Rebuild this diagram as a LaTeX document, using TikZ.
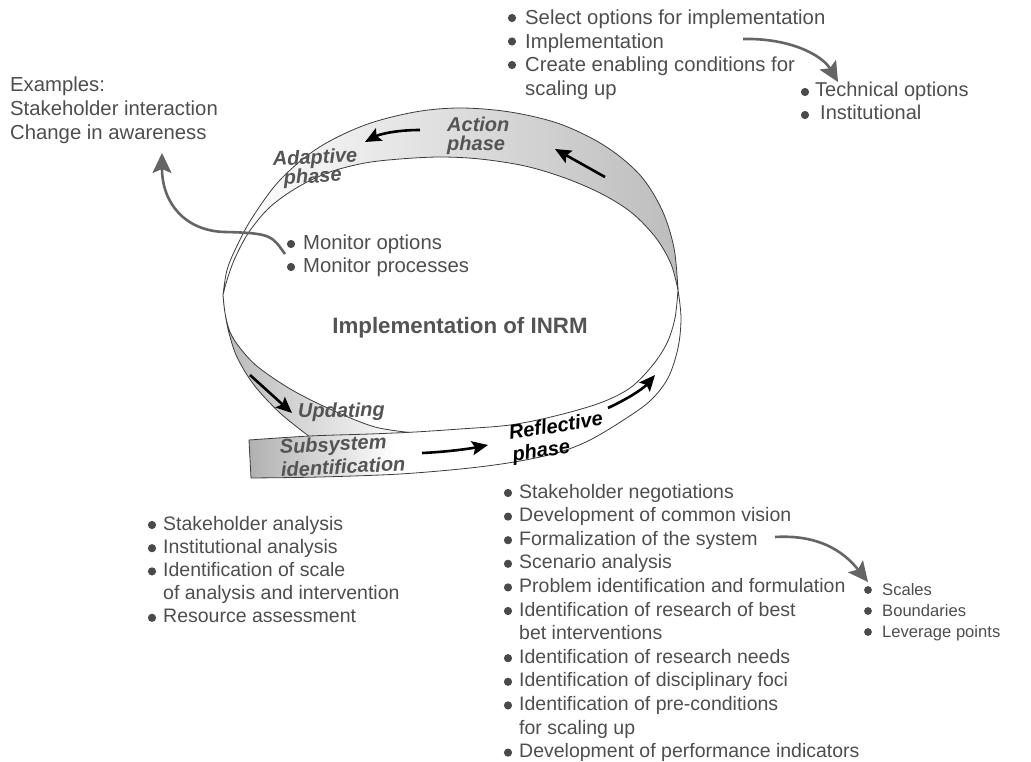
\documentclass[tikz,border=0pt]{standalone}
\usepackage{fontspec}
\setmainfont{Liberation Sans}
\usetikzlibrary{arrows.meta,calc}

\definecolor{txtgray}{HTML}{4E4E4E}
\definecolor{labgray}{HTML}{545454}
\definecolor{notegray}{HTML}{656565}
\definecolor{edgec}{HTML}{3C3C3C}
\definecolor{bulletc}{HTML}{4A4A4A}

\newcommand\listfont[2]{\fontsize{#1}{#2}\selectfont}

% ribbon outlines (pixel-like units, y grows downward)
\newcommand\topPath{plot[smooth,tension=0.55] coordinates {(223,295) (227,270) (236,248) (252,218) (280,180) (318,148) (365,125) (415,112) (460,108) (510,112) (560,124) (605,146) (640,175) (662,210) (674,248) (678,290)} -- plot[smooth,tension=0.55] coordinates {(678,290) (671,264) (656,238) (632,213) (602,194) (565,178) (525,166) (480,159) (440,157) (400,159) (365,163) (330,172) (298,187) (270,207) (249,232) (235,258) (227,280) (223,295)} -- cycle}
\newcommand\updPath{plot[smooth,tension=0.55] coordinates {(223,295) (225,313) (229,333) (237,357) (254,385) (280,413) (310,437)} -- (415,433) -- plot[smooth,tension=0.55] coordinates {(415,433) (375,427) (332,410) (292,390) (258,367) (240,348) (230,332) (225,313) (223,295)} -- cycle}
\newcommand\stripPath{plot[smooth,tension=0.55] coordinates {(249,440) (310,436) (370,434) (415,432) (460,429) (510,425) (555,416) (600,403) (630,388) (652,366) (667,343) (675,318) (678,290)} -- plot[smooth,tension=0.55] coordinates {(678,290) (681,318) (678,348) (668,378) (650,401) (622,421) (590,440) (560,452) (520,461) (470,468) (400,474) (320,477) (251,478)} -- cycle}

\tikzset{
  ribbonedge/.style={draw=edgec, line width=0.8pt},
  listtext/.style={inner sep=0pt, anchor=base west, text=txtgray},
  ribbonlabel/.style={inner sep=0pt, anchor=base west, text=labgray,
    font=\bfseries\itshape\fontsize{20}{22}\selectfont},
  flowarrow/.style={line width=2.6pt, draw=black,
    -{Stealth[length=16pt,width=14pt,inset=3pt]}},
  notearrow/.style={line width=2.6pt, draw=notegray,
    -{Stealth[length=20pt,width=19pt,inset=4pt,fill=notegray]}},
  bulletdot/.style={fill=bulletc},
}

\begin{document}
\begin{tikzpicture}[x=1pt,y=-1pt]
\fill[white] (0,0) rectangle (1031,762);
\useasboundingbox (0,0) rectangle (1031,762);

% --- the twisted ribbon ---
\shade[left color=white, middle color=gray!18, right color=gray!52] \topPath;
\draw[ribbonedge] \topPath;

\shade[left color=gray!55, middle color=white, right color=white] \updPath;
\draw[ribbonedge] \updPath;

\fill[white] \stripPath;
\begin{scope}
  \clip \stripPath;
  \shade[left color=gray!62, right color=white] (249,420) rectangle (395,490);
\end{scope}
\draw[ribbonedge] \stripPath;

% --- labels on the ribbon ---
\node[ribbonlabel] (lblaction) at (447,132)
  {\begin{tabular}[t]{@{}l@{}}Action\\[-3pt]phase\end{tabular}};
\node[ribbonlabel, rotate=3] (lbladapt) at (273,166)
  {\begin{tabular}[t]{@{}l@{}}Adaptive\\[-3pt]\hspace{10pt}phase\end{tabular}};
\node[ribbonlabel, rotate=1] (lblupd) at (298,418) {Updating};
\node[ribbonlabel, rotate=3] (lblsub) at (280,454)
  {\begin{tabular}[t]{@{}l@{}}Subsystem\\[1pt]identification\end{tabular}};
\node[ribbonlabel, rotate=9, text=black] (lblrefl) at (510,440)
  {\begin{tabular}[t]{@{}l@{}}Reflective\\phase\end{tabular}};

\node[inner sep=0pt, anchor=base, text=labgray,
  font=\bfseries\fontsize{22.3}{26}\selectfont] (title) at (460,333)
  {Implementation of INRM};

% --- direction arrows along the ribbon ---
\coordinate (a1s) at (605,177); \coordinate (a1e) at (555,149);
\coordinate (a2s) at (420,130); \coordinate (a2e) at (365,142);
\coordinate (a3s) at (250,375); \coordinate (a3e) at (292,413);
\coordinate (a4s) at (422,453); \coordinate (a4e) at (488,445);
\coordinate (a5s) at (608,408); \coordinate (a5e) at (655,375);
\draw[flowarrow] (a1s) -- (a1e);
\draw[flowarrow] (a2s) .. controls +(-23,0) and +(15,-8) .. (a2e);
\draw[flowarrow] (a3s) -- (a3e);
\draw[flowarrow] (a4s) .. controls +(23,-1) and +(-20,4) .. (a4e);
\draw[flowarrow] (a5s) .. controls +(17,-8) and +(-13,15) .. (a5e);

% --- text lists ---
\node[listtext, font=\listfont{20.3}{23.5}] (actlist) at (525,25)
  {\begin{tabular}[t]{@{}l@{}}Select options for implementation\\Implementation\\Create enabling conditions for\\scaling up\end{tabular}};
\foreach \i in {0,1,2}
  \fill[bulletdot] ($(actlist.base west)+(-13,23.5*\i-7)$) circle (4.1pt);

\node[listtext, font=\listfont{20}{23}] (techlist) at (815,97)
  {\begin{tabular}[t]{@{}l@{}}Technical options\\\hspace{5pt}Institutional\end{tabular}};
\foreach \i in {0,1}
  \fill[bulletdot] ($(techlist.base west)+(-10,23*\i-5)$) circle (4.1pt);

\node[listtext, font=\listfont{20.3}{24}] (examples) at (10,92)
  {\begin{tabular}[t]{@{}l@{}}Examples:\\Stakeholder interaction\\Change in awareness\end{tabular}};

\node[listtext, font=\listfont{20.3}{23}] (monitor) at (303,250)
  {\begin{tabular}[t]{@{}l@{}}Monitor options\\Monitor processes\end{tabular}};
\foreach \i in {0,1}
  \fill[bulletdot] ($(monitor.base west)+(-12,23*\i-6)$) circle (4.1pt);

\node[listtext, font=\listfont{19.5}{23.2}] (sublist) at (163,530)
  {\begin{tabular}[t]{@{}l@{}}Stakeholder analysis\\Institutional analysis\\Identification of scale\\of analysis and intervention\\Resource assessment\end{tabular}};
\foreach \i in {0,1,2,4}
  \fill[bulletdot] ($(sublist.base west)+(-11,23.2*\i-5)$) circle (4.1pt);

\node[listtext, font=\listfont{19.5}{23.6}] (reflist) at (519,498)
  {\begin{tabular}[t]{@{}l@{}}Stakeholder negotiations\\Development of common vision\\Formalization of the system\\Scenario analysis\\Problem identification and formulation\\Identification of research of best\\bet interventions\\Identification of research needs\\Identification of disciplinary foci\\Identification of pre-conditions\\for scaling up\\Development of performance indicators\end{tabular}};
\foreach \i in {0,1,2,3,4,5,7,8,9,11}
  \fill[bulletdot] ($(reflist.base west)+(-11,23.6*\i-5)$) circle (4.1pt);

\node[listtext, font=\listfont{16.6}{21}] (scalelist) at (882,595)
  {\begin{tabular}[t]{@{}l@{}}Scales\\Boundaries\\Leverage points\end{tabular}};
\foreach \i in {0,1,2}
  \fill[bulletdot] ($(scalelist.base west)+(-14,21*\i-5)$) circle (3.9pt);

% --- annotation arrows between the lists ---
\coordinate (g1s) at ($(actlist.base west)+(218,14)$);
\coordinate (g1e) at ($(techlist.base west)+(23,-15)$);
\draw[notearrow] (g1s) .. controls +(47,-1) and +(-16,-27) .. (g1e);

\coordinate (g2s) at ($(monitor.base west)+(-18,4)$);
\coordinate (g2m) at (225,232);
\coordinate (g2e) at ($(examples.base west)+(152,61)$);
\draw[notearrow] (g2s) .. controls +(-13,-18) and +(47,1) .. (g2m)
  .. controls +(-40,-1) and +(0,50) .. (g2e);

\coordinate (g3s) at ($(reflist.base west)+(256,39)$);
\coordinate (g3e) at ($(scalelist.base west)+(-14,-13)$);
\draw[notearrow] (g3s) .. controls +(50,-3) and +(-20,-25) .. (g3e);
\end{tikzpicture}
\end{document}
